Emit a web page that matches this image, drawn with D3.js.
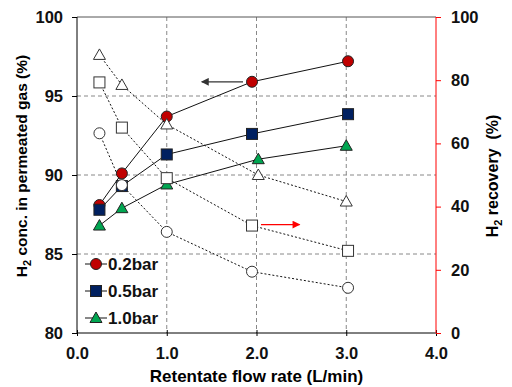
<!DOCTYPE html>
<html>
<head>
<meta charset="utf-8">
<script src="https://cdn.jsdelivr.net/npm/d3@7"></script>
<style>
  body { margin: 0; background: #fff; }
  text { font-family: "Liberation Sans", Arial, sans-serif; font-weight: bold; }
</style>
</head>
<body>
<script>
// flow rates (L/min)
const flowA = [0.25, 0.5, 1.0, 1.95, 3.02];
const flowB = [0.25, 0.5, 1.0, 2.02, 3.0];

// H2 concentration in permeate (%), left axis
const conc02 = [88.1, 90.1, 93.7, 95.9, 97.2];
const conc05 = [87.8, 89.3, 91.3, 92.6, 93.85];
const conc10 = [86.8, 87.9, 89.4, 91.0, 91.85];

// H2 recovery (%), right axis
const rec02 = [63.2, 46.8, 32.0, 19.4, 14.3];
const rec05 = [79.3, 65.0, 49.0, 34.0, 26.0];
const rec10 = [88.0, 78.5, 66.0, 50.0, 41.6];

const xTicks = [0, 1, 2, 3, 4];
const leftTicks = [80, 85, 90, 95, 100];
const rightTicks = [0, 20, 40, 60, 80, 100];
const legendLabels = ["0.2bar", "0.5bar", "1.0bar"];

const width = 512, height = 387;
const marginTop = 17, marginRight = 76, marginBottom = 54, marginLeft = 77;

const x = d3.scaleLinear().domain([0, 4]).range([marginLeft, width - marginRight]);
const yL = d3.scaleLinear().domain([80, 100]).range([height - marginBottom, marginTop]);
const yR = d3.scaleLinear().domain([0, 100]).range([height - marginBottom, marginTop]);

const svg = d3.select("body").append("svg").attr("width", width).attr("height", height);

// grid
const grid = svg.append("g").attr("stroke", "#888").attr("stroke-dasharray", "4,3").attr("stroke-width", 1);
grid.selectAll("line.v").data([1, 2, 3]).join("line")
  .attr("x1", d => x(d)).attr("x2", d => x(d))
  .attr("y1", marginTop).attr("y2", height - marginBottom);
grid.selectAll("line.h").data([85, 90, 95]).join("line")
  .attr("x1", marginLeft).attr("x2", width - marginRight)
  .attr("y1", d => yL(d)).attr("y2", d => yL(d));

// top border
svg.append("line").attr("x1", marginLeft).attr("x2", width - marginRight)
  .attr("y1", marginTop).attr("y2", marginTop).attr("stroke", "#555");

// axes
const xAxis = svg.append("g").attr("transform", `translate(0,${height - marginBottom})`)
  .call(d3.axisBottom(x).tickValues(xTicks).tickFormat(d3.format(".1f")).tickSize(3).tickPadding(11));
xAxis.selectAll(".tick line").attr("y1", -3);
xAxis.select(".domain").attr("d", `M${marginLeft},0H${width - marginRight}`);

const yAxisL = svg.append("g").attr("transform", `translate(${marginLeft},0)`)
  .call(d3.axisLeft(yL).tickValues(leftTicks).tickSize(5).tickPadding(9));
yAxisL.select(".domain").attr("d", `M0,${marginTop}V${height - marginBottom}`);

const yAxisR = svg.append("g").attr("transform", `translate(${width - marginRight},0)`)
  .call(d3.axisRight(yR).tickValues(rightTicks).tickSize(5).tickPadding(10));
yAxisR.select(".domain").attr("d", `M0,${marginTop}V${height - marginBottom}`).attr("stroke", "red");
yAxisR.selectAll(".tick line").attr("stroke", "red");

svg.selectAll(".tick text").attr("font-size", 16.5).attr("fill", "#111")
  .style("font-family", '"Liberation Sans", Arial, sans-serif').style("font-weight", "bold");

// axis titles
svg.append("text").attr("x", (marginLeft + width - marginRight) / 2).attr("y", 382)
  .attr("text-anchor", "middle").attr("font-size", 17).text("Retentate flow rate (L/min)");

const tl = svg.append("text").attr("transform", "translate(27,166) rotate(-90)")
  .attr("text-anchor", "middle").attr("font-size", 15.5);
tl.append("tspan").text("H");
tl.append("tspan").attr("font-size", 11).attr("dy", 4).text("2");
tl.append("tspan").attr("dy", -4).text(" conc. in permeated gas (%)");

const tr = svg.append("text").attr("transform", "translate(498,176) rotate(-90)")
  .attr("text-anchor", "middle").attr("font-size", 16).style("white-space", "pre");
tr.append("tspan").text("H");
tr.append("tspan").attr("font-size", 11).attr("dy", 4).text("2");
tr.append("tspan").attr("dy", -4).text(" recovery  (%)");

// arrows
const defs = svg.append("defs");
[["ahBlack", "#333"], ["ahRed", "red"]].forEach(([id, c]) => {
  defs.append("marker").attr("id", id).attr("viewBox", "0 0 10 10").attr("refX", 9).attr("refY", 5)
    .attr("markerWidth", 8).attr("markerHeight", 6).attr("orient", "auto")
    .append("path").attr("d", "M0,0L10,5L0,10z").attr("fill", c);
});
svg.append("line").attr("x1", x(1.85)).attr("x2", x(1.39)).attr("y1", yL(95.9)).attr("y2", yL(95.9))
  .attr("stroke", "#333").attr("stroke-width", 1.3).attr("marker-end", "url(#ahBlack)");
svg.append("line").attr("x1", x(2.05)).attr("x2", x(2.48)).attr("y1", yR(34.3)).attr("y2", yR(34.3))
  .attr("stroke", "red").attr("stroke-width", 1.3).attr("marker-end", "url(#ahRed)");

// markers
function drawMarker(g, shape, cx, cy, fill, stroke) {
  if (shape === "circle") {
    g.append("circle").attr("cx", cx).attr("cy", cy).attr("r", 5.5)
      .attr("fill", fill).attr("stroke", stroke).attr("stroke-width", 1);
  } else if (shape === "square") {
    g.append("rect").attr("x", cx - 5.5).attr("y", cy - 5.5).attr("width", 11).attr("height", 11)
      .attr("fill", fill).attr("stroke", stroke).attr("stroke-width", 1);
  } else {
    g.append("path").attr("d", `M${cx},${cy - 6}L${cx + 6},${cy + 4.5}L${cx - 6},${cy + 4.5}Z`)
      .attr("fill", fill).attr("stroke", stroke).attr("stroke-width", 1);
  }
}

const filled = [
  { xs: flowA, ys: conc02, shape: "circle", fill: "#c00000" },
  { xs: flowA, ys: conc05, shape: "square", fill: "#002060" },
  { xs: flowB, ys: conc10, shape: "triangle", fill: "#00a651" }
];
const open = [
  { xs: flowA, ys: rec02, shape: "circle" },
  { xs: flowA, ys: rec05, shape: "square" },
  { xs: flowB, ys: rec10, shape: "triangle" }
];

const line = d3.line();
filled.forEach(s => {
  svg.append("path").attr("d", line(s.xs.map((v, i) => [x(v), yL(s.ys[i])])))
    .attr("fill", "none").attr("stroke", "#111").attr("stroke-width", 1);
});
open.forEach(s => {
  svg.append("path").attr("d", line(s.xs.map((v, i) => [x(v), yR(s.ys[i])])))
    .attr("fill", "none").attr("stroke", "#111").attr("stroke-width", 1).attr("stroke-dasharray", "2,2");
});
filled.forEach(s => {
  const g = svg.append("g");
  s.xs.forEach((v, i) => drawMarker(g, s.shape, x(v), yL(s.ys[i]), s.fill, "#222"));
});
open.forEach(s => {
  const g = svg.append("g");
  s.xs.forEach((v, i) => drawMarker(g, s.shape, x(v), yR(s.ys[i]), "#fff", "#333"));
});

// legend
const legend = svg.append("g");
legendLabels.forEach((lab, i) => {
  const ly = 264 + i * 27;
  legend.append("line").attr("x1", 85).attr("x2", 107).attr("y1", ly).attr("y2", ly).attr("stroke", "#111");
  drawMarker(legend, filled[i].shape, 96, ly, filled[i].fill, "#222");
  legend.append("text").attr("x", 108).attr("y", ly + 6).attr("font-size", 17).attr("fill", "#111").text(lab);
});
</script>
</body>
</html>
